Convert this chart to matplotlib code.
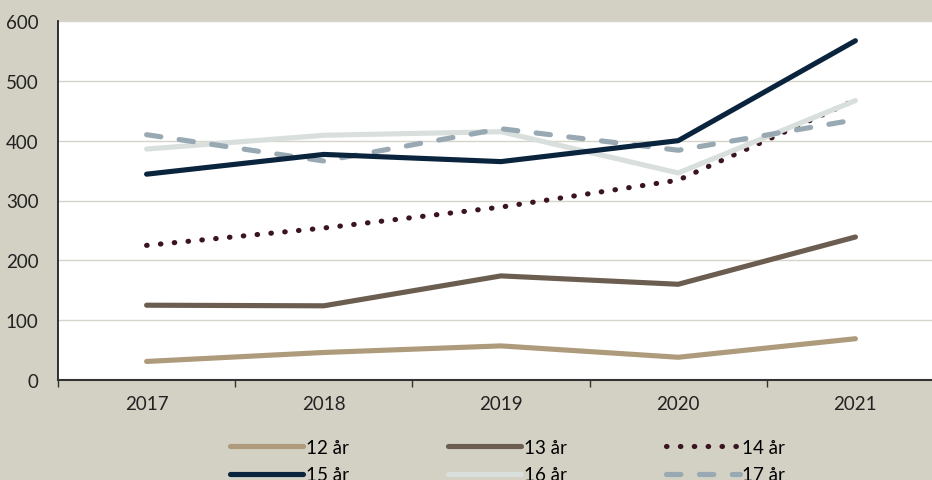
import matplotlib
matplotlib.use("Agg")
import matplotlib.pyplot as plt

# data
years = ["2017", "2018", "2019", "2020", "2021"]
labels = ["12 år", "13 år", "14 år", "15 år", "16 år", "17 år"]
v12 = [31, 46, 57, 38, 69]
v13 = [125, 124, 174, 160, 239]
v14 = [225, 254, 289, 334, 468]
v15 = [344, 377, 365, 400, 567]
v16 = [386, 409, 415, 346, 467]
v17 = [410, 366, 420, 384, 435]
yticks = [0, 100, 200, 300, 400, 500, 600]

bg = "#d3d0c4"
colors = ["#ad9b7b", "#6b5d50", "#3a1420", "#0b243d", "#d8dfdd", "#98a9b3"]
styles = ["-", "-", (0, (0.1, 2.6)), "-", "-", (0, (2.8, 3.6))]

plt.rcParams['font.family'] = ['Lato', 'DejaVu Sans']

fig = plt.figure(figsize=(9.32, 4.81), dpi=100)
fig.patch.set_facecolor(bg)
ax = fig.add_axes([58/932, 1-381/481, 886/932, 359/481])
ax.set_facecolor("white")

x = list(range(len(years)))
series = [v12, v13, v14, v15, v16, v17]
# draw order: lighter lines under darker ones as in the reference
order = [0, 1, 2, 4, 5, 3]
handles = [None]*6
for i in order:
    ln, = ax.plot(x, series[i], color=colors[i], linestyle=styles[i], lw=3.7,
                  solid_capstyle="round", dash_capstyle="round", label=labels[i],
                  zorder=3)
    handles[i] = ln

ax.set_xlim(-0.5, 4.5)
ax.set_ylim(0, 600)
ax.set_yticks(yticks)
ax.set_xticks(x)
ax.set_xticklabels(years)
ax.set_xticks([i - 0.5 for i in range(6)], minor=True)
ax.tick_params(axis="x", which="major", length=0, pad=11, labelsize=13.5, colors="#222222")
ax.tick_params(axis="x", which="minor", length=5, width=1, color="#333333", direction="out")
ax.tick_params(axis="y", length=0, pad=14, labelsize=13.5, colors="#222222")
ax.grid(axis="y", color="#d6d3c8", lw=1, zorder=0)
for s in ["top", "right"]:
    ax.spines[s].set_visible(False)
ax.spines["left"].set_color("#111111")
ax.spines["bottom"].set_color("#333333")
ax.spines["left"].set_linewidth(1.2)
ax.spines["bottom"].set_linewidth(1.5)

# legend is filled column by column, so interleave to get row order
lorder = [0, 3, 1, 4, 2, 5]
leg = fig.legend(handles=[handles[i] for i in lorder],
                 labels=[labels[i] for i in lorder], ncol=3, loc="upper left",
                 bbox_to_anchor=(213/932, 1-423/481), frameon=False,
                 fontsize=13.5, handlelength=3.9, handletextpad=0.15,
                 columnspacing=5.3, labelspacing=0.55)

fig.savefig("out.png", dpi=100, facecolor=bg)
